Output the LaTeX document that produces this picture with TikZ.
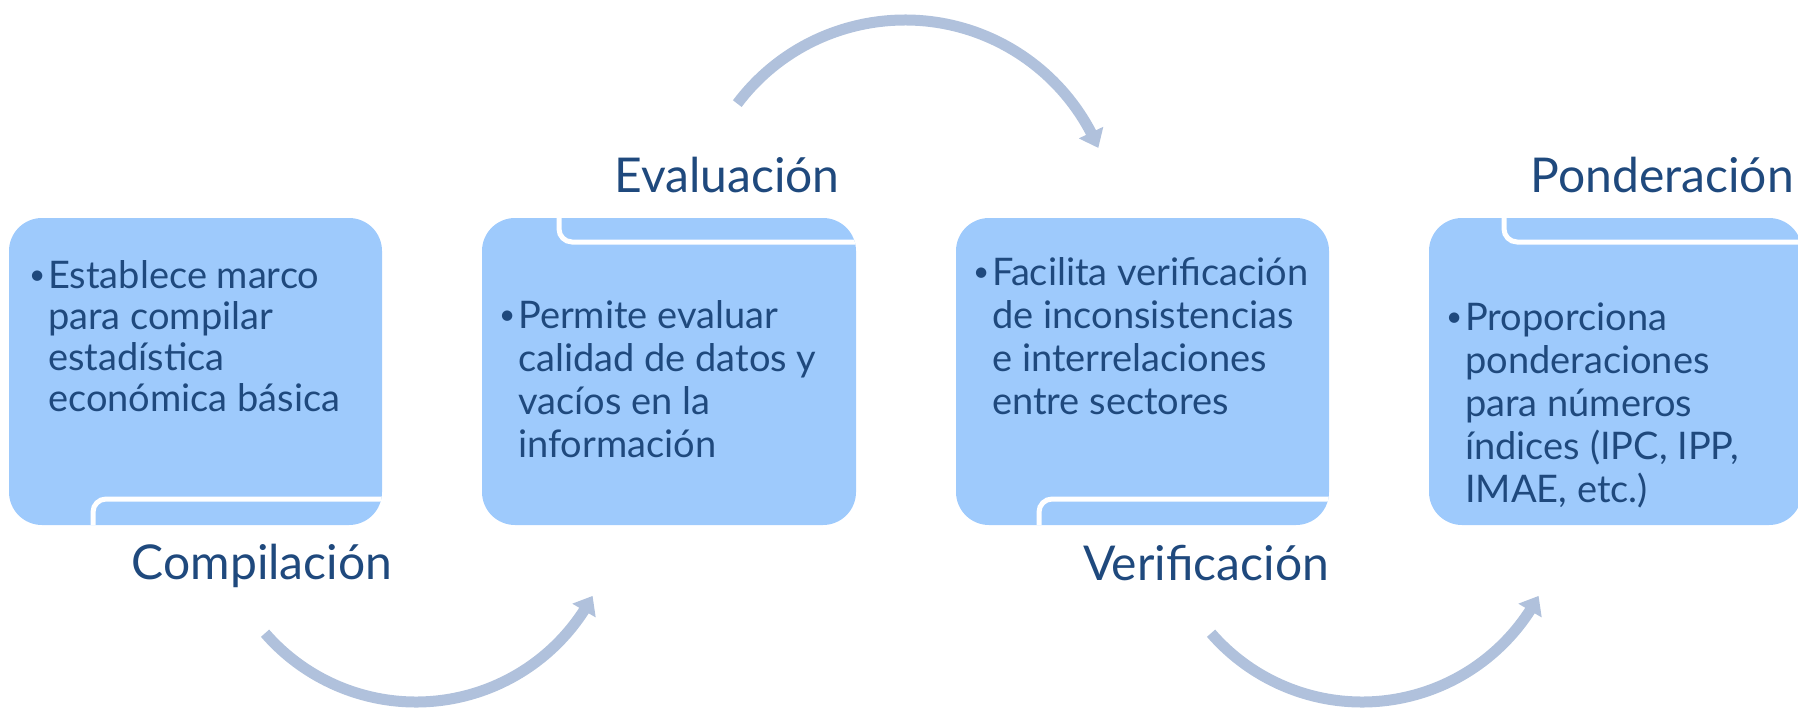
\documentclass[tikz,border=0pt]{standalone}
\usepackage{fontspec}
\setmainfont{Lato}
\usetikzlibrary{arrows.meta,bending,calc}
\definecolor{boxfill}{RGB}{158,202,252}
\definecolor{txtcol}{RGB}{31,73,125}
\definecolor{arrowcol}{RGB}{176,193,220}
\newcommand\blines[2]{{\fontsize{38}{#1}\selectfont\lineskiplimit=-1000pt\relax
  \makebox[19pt][l]{\raisebox{3.5pt}{\fontsize{28}{28}\selectfont •}}\vtop{#2}}}
\begin{document}
\begin{tikzpicture}[x=1pt,y=-1pt,
  blk/.style={fill=boxfill, rounded corners=33pt},
  tabline/.style={draw=white, line width=5pt, rounded corners=13pt},
  flow/.style={draw=arrowcol, line width=11pt, -{Triangle[width=26pt,length=17pt]}},
  title/.style={text=txtcol, font=\fontsize{48}{56}\selectfont, inner sep=0pt, anchor=base},
  body/.style={text=txtcol, inner sep=0pt, anchor=base west}]
\useasboundingbox (0,0) rectangle (1798,712);
\clip (0,0) rectangle (1798,712);

% boxes
\path[blk] (9,218) rectangle (382,525);
\begin{scope}
  \clip[rounded corners=33pt] (9,218) rectangle (382,525);
  \draw[tabline] (93,540) -- (93,499) -- (400,499);
\end{scope}
\path[blk] (482,218) rectangle (856,525);
\begin{scope}
  \clip[rounded corners=33pt] (482,218) rectangle (856,525);
  \draw[tabline] (559,200) -- (559,242) -- (870,242);
\end{scope}
\path[blk] (956,218) rectangle (1329,525);
\begin{scope}
  \clip[rounded corners=33pt] (956,218) rectangle (1329,525);
  \draw[tabline] (1039,540) -- (1039,499) -- (1345,499);
\end{scope}
\path[blk] (1429,218) rectangle (1802,525);
\begin{scope}
  \clip[rounded corners=33pt] (1429,218) rectangle (1802,525);
  \draw[tabline] (1504,200) -- (1504,242) -- (1820,242);
\end{scope}

% body texts
\node[body] (t1) at (29,288) {\blines{41pt}{\hbox{Establece marco}\hbox{para compilar}\hbox{estadística}\hbox{económica básica}}};
\node[body] (t2) at (499,328) {\blines{43pt}{\hbox{Permite evaluar}\hbox{calidad de datos y}\hbox{vacíos en la}\hbox{información}}};
\node[body] (t3) at (973,285) {\blines{43pt}{\hbox{Facilita verificación}\hbox{de inconsistencias}\hbox{e interrelaciones}\hbox{entre sectores}}};
\node[body] (t4) at (1446,330) {\blines{43pt}{\hbox{Proporciona}\hbox{ponderaciones}\hbox{para números}\hbox{índices (IPC, IPP,}\hbox{IMAE, etc.)}}};

% titles
\node[title] (h1) at (262,579) {Compilación};
\node[title] (h2) at (727,192) {Evaluación};
\node[title] (h3) at (1206,580) {Verificación};
\node[title, anchor=base east] (h4) at (1794,192) {Ponderación};

% curved arrows
\coordinate (c1) at (416,502);
\coordinate (c2) at (905,230);
\coordinate (c3) at (1362,502);
\coordinate (s1) at ($(c1)+(139:200)$);
\coordinate (s2) at ($(c2)+(-143:210)$);
\coordinate (s3) at ($(c3)+(139:200)$);
\path[flow] (s1) arc[start angle=139, end angle=28, radius=200];
\path[flow] (s2) arc[start angle=-143, end angle=-23, radius=210];
\path[flow] (s3) arc[start angle=139, end angle=28, radius=200];
\end{tikzpicture}
\end{document}
